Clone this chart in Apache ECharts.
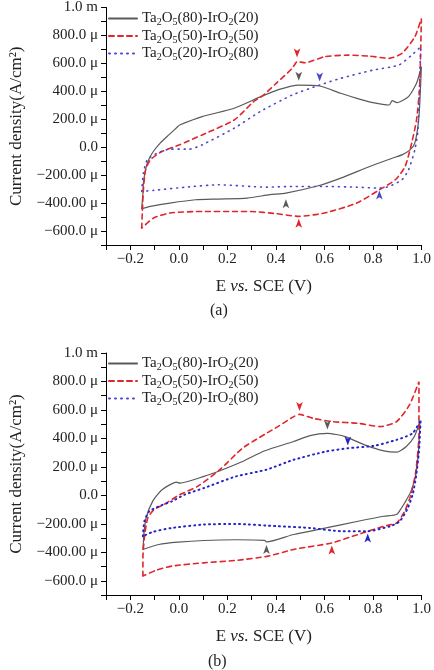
<!DOCTYPE html>
<html>
<head>
<meta charset="utf-8">
<script src="https://cdn.jsdelivr.net/npm/echarts@6/dist/echarts.min.js"></script>
<style>
html, body { margin: 0; padding: 0; background: #fff; }
#chart { width: 434px; height: 670px; }
</style>
</head>
<body>
<div id="chart"></div>
<script>
var seriesNames = ['Ta2O5(80)-IrO2(20)', 'Ta2O5(50)-IrO2(50)', 'Ta2O5(20)-IrO2(80)'];

var xTickValues = [-0.2, 0, 0.2, 0.4, 0.6, 0.8, 1.0];
var xTickLabels = ['\u22120.2', '0.0', '0.2', '0.4', '0.6', '0.8', '1.0'];
var yTickValues = [1000, 800, 600, 400, 200, 0, -200, -400, -600];
var yTickLabels = ['1.0 m', '800.0 \u03bc', '600.0 \u03bc', '400.0 \u03bc', '200.0 \u03bc', '0.0',
	'\u2212200.00 \u03bc', '\u2212400.00 \u03bc', '\u2212600.0 \u03bc'];

// (a) cyclic voltammograms, [E, j], anodic sweep then cathodic sweep
var aGray = [
	[-0.153,-440],[-0.148,-330],[-0.146,-257],[-0.138,-170],[-0.130,-114],[-0.110,-43],[-0.077,29],
	[-0.040,90],[-0.004,148],[0.003,159],[0.096,219],[0.228,279],[0.335,360],[0.414,414],[0.494,445],
	[0.580,438],[0.667,386],[0.733,350],[0.800,319],[0.866,302],[0.879,333],[0.899,319],[0.946,362],
	[0.979,457],[0.999,576],
	[0.989,219],[0.972,29],[0.952,-19],[0.919,-55],[0.879,-79],[0.786,-138],[0.667,-221],[0.574,-276],
	[0.441,-329],[0.375,-340],[0.282,-364],[0.162,-371],[0.069,-376],[-0.037,-400],[-0.117,-424],[-0.153,-440]
];
var aRed = [
	[-0.153,-579],[-0.150,-450],[-0.146,-305],[-0.137,-162],[-0.117,-90],[-0.070,-31],[0.003,17],
	[0.096,88],[0.228,195],[0.308,326],[0.345,368],[0.401,457],[0.467,564],[0.487,612],[0.521,605],
	[0.600,648],[0.693,659],[0.786,652],[0.866,636],[0.919,671],[0.972,790],[0.999,921],
	[0.992,433],[0.979,195],[0.959,29],[0.932,-138],[0.892,-233],[0.826,-305],[0.733,-400],[0.600,-471],
	[0.494,-495],[0.401,-476],[0.295,-460],[0.228,-460],[0.096,-460],[-0.037,-471],[-0.104,-507],[-0.153,-579]
];
var aBlue = [
	[-0.153,-317],[-0.146,-186],[-0.130,-90],[-0.090,-43],[-0.037,-14],[0.043,-14],[0.096,17],
	[0.228,136],[0.335,255],[0.467,374],[0.580,445],[0.667,493],[0.800,552],[0.906,588],[0.959,659],
	[0.996,719],
	[0.985,124],[0.972,-19],[0.946,-162],[0.919,-233],[0.866,-281],[0.826,-293],[0.733,-286],[0.600,-281],
	[0.467,-281],[0.361,-286],[0.162,-269],[0.029,-286],[-0.104,-309],[-0.153,-317]
];
var aGrayArrows = [[0.494, 475], [0.441, -372]];
var aRedArrows = [[0.487, 642], [0.494, -512]];
var aBlueArrows = [[0.580, 470], [0.826, -310]];

// (b)
var bGray = [
	[-0.148,-380],[-0.146,-330],[-0.144,-275],[-0.135,-159],[-0.108,-42],[-0.069,40],[-0.009,93],
	[0.004,86],[0.103,133],[0.169,173],[0.262,238],[0.354,313],[0.473,378],[0.540,420],[0.612,436],
	[0.685,413],[0.765,355],[0.844,313],[0.897,303],[0.937,343],[0.970,413],[0.993,518],
	[0.987,308],[0.976,145],[0.956,28],[0.930,-54],[0.917,-89],[0.897,-135],[0.844,-147],[0.738,-182],
	[0.606,-229],[0.473,-275],[0.361,-327],[0.354,-316],[0.235,-312],[0.103,-317],[-0.003,-329],
	[-0.082,-345],[-0.148,-380]
];
var bRed = [
	[-0.148,-567],[-0.148,-439],[-0.142,-299],[-0.128,-159],[-0.102,-100],[-0.062,-65],[0.004,5],
	[0.077,63],[0.169,180],[0.262,331],[0.355,430],[0.408,483],[0.473,553],[0.497,569],[0.553,541],
	[0.632,518],[0.738,506],[0.831,483],[0.897,518],[0.950,635],[0.989,798],
	[0.989,425],[0.976,168],[0.956,5],[0.930,-112],[0.897,-194],[0.844,-217],[0.738,-275],[0.630,-334],
	[0.473,-380],[0.368,-427],[0.235,-457],[0.103,-474],[-0.029,-497],[-0.095,-527],[-0.148,-567]
];
var bBlue = [
	[-0.148,-287],[-0.142,-182],[-0.122,-112],[-0.082,-77],[-0.029,-42],[0.024,5],[0.103,51],
	[0.235,133],[0.360,180],[0.473,250],[0.606,308],[0.696,331],[0.804,348],[0.897,390],[0.963,436],
	[0.996,530],
	[0.989,308],[0.976,121],[0.963,5],[0.943,-89],[0.910,-182],[0.870,-217],[0.778,-252],[0.672,-252],
	[0.540,-229],[0.408,-217],[0.235,-201],[0.103,-205],[-0.029,-229],[-0.108,-257],[-0.148,-287]
];
var bGrayArrows = [[0.612, 462], [0.361, -348]];
var bRedArrows = [[0.497, 592], [0.630, -352]];
var bBlueArrows = [[0.696, 350], [0.778, -268]];

var FONT = "'Liberation Serif', 'Times New Roman', serif";
var TXT = '#222';

function pickLabel(values, labels, v) {
	for (var i = 0; i < values.length; i++) {
		if (Math.abs(values[i] - v) < 1e-6) return labels[i];
	}
	return '';
}

function makeX(idx) {
	return {
		type: 'value', gridIndex: idx, min: -0.3, max: 1.0, interval: 0.1,
		axisLine: { show: true, onZero: false, lineStyle: { color: '#000', width: 1 } },
		axisTick: { show: true, length: 5, lineStyle: { color: '#000' } },
		splitLine: { show: false },
		axisLabel: {
			fontFamily: FONT, fontSize: 15, color: TXT, margin: 7,
			formatter: function(v){ return pickLabel(xTickValues, xTickLabels, v); }
		},
		name: '{n|E }{i|vs.}{n| SCE (V)}',
		nameLocation: 'middle',
		nameGap: 33,
		nameTextStyle: {
			rich: {
				n: { fontFamily: FONT, fontSize: 17, color: TXT },
				i: { fontFamily: FONT, fontSize: 17, color: TXT, fontStyle: 'italic' }
			}
		}
	};
}

function makeY(idx) {
	return {
		type: 'value', gridIndex: idx, min: -700, max: 1000, interval: 100,
		axisLine: { show: true, onZero: false, lineStyle: { color: '#000', width: 1 } },
		axisTick: { show: true, length: 5, lineStyle: { color: '#000' } },
		splitLine: { show: false },
		axisLabel: {
			fontFamily: FONT, fontSize: 15, color: TXT, margin: 8,
			formatter: function(v){ return pickLabel(yTickValues, yTickLabels, v); }
		},
		name: 'Current density(A/cm\u00b2)',
		nameLocation: 'middle',
		nameGap: 81,
		nameTextStyle: { fontFamily: FONT, fontSize: 17, color: TXT }
	};
}

function arrowMarks(list) {
	return {
		symbol: 'arrow',
		symbolSize: [5, 9],
		label: { show: false },
		silent: true,
		data: list.map(function(p){
			return { coord: p, symbolRotate: p[1] > 0 ? 180 : 0 };
		})
	};
}

function makeSeries(name, idx, data, color, width, type, arrows) {
	return {
		name: name,
		type: 'line',
		xAxisIndex: idx,
		yAxisIndex: idx,
		data: data,
		symbol: 'none',
		smooth: 0.2,
		color: color,
		lineStyle: { color: color, width: width, type: type, cap: 'round' },
		markPoint: arrowMarks(arrows),
		z: 3
	};
}

function legendFmt(name) {
	return name.replace(/(Ta|O)(\d)/g, '$1{sub|$2}');
}

function makeLegend(top) {
	return {
		orient: 'vertical',
		left: 108,
		top: top,
		padding: 0,
		itemWidth: 28,
		itemHeight: 12,
		itemGap: 1,
		data: seriesNames,
		formatter: legendFmt,
		selectedMode: false,
		itemStyle: { opacity: 0 },
		textStyle: {
			fontFamily: FONT, fontSize: 15, color: TXT,
			rich: { sub: { fontFamily: FONT, fontSize: 10, color: TXT, padding: [8, 0, 0, 0] } }
		}
	};
}

var chart = echarts.init(document.getElementById('chart'));

var option = {
	backgroundColor: '#fff',
	animation: false,
	title: [
		{ text: '(a)', left: 210, top: 303, padding: 0,
			textStyle: { fontFamily: FONT, fontSize: 16, fontWeight: 'normal', color: TXT } },
		{ text: '(b)', left: 208, top: 654, padding: 0,
			textStyle: { fontFamily: FONT, fontSize: 16, fontWeight: 'normal', color: TXT } }
	],
	legend: [makeLegend(11), makeLegend(356)],
	grid: [
		{ left: 100, top: 4, width: 327, height: 241 },
		{ left: 99, top: 353, width: 327, height: 242 }
	],
	xAxis: [makeX(0), makeX(1)],
	yAxis: [makeY(0), makeY(1)],
	series: [
		makeSeries(seriesNames[0], 0, aGray, '#5a5a5a', 1.2, 'solid', aGrayArrows),
		makeSeries(seriesNames[1], 0, aRed, '#e0262b', 1.6, [5, 4], aRedArrows),
		makeSeries(seriesNames[2], 0, aBlue, '#4848c8', 1.6, [1, 5], aBlueArrows),
		makeSeries(seriesNames[0], 1, bGray, '#5a5a5a', 1.2, 'solid', bGrayArrows),
		makeSeries(seriesNames[1], 1, bRed, '#e0262b', 1.6, [5, 4], bRedArrows),
		makeSeries(seriesNames[2], 1, bBlue, '#2424c8', 2, [1, 4], bBlueArrows)
	]
};

chart.setOption(option);
</script>
</body>
</html>
